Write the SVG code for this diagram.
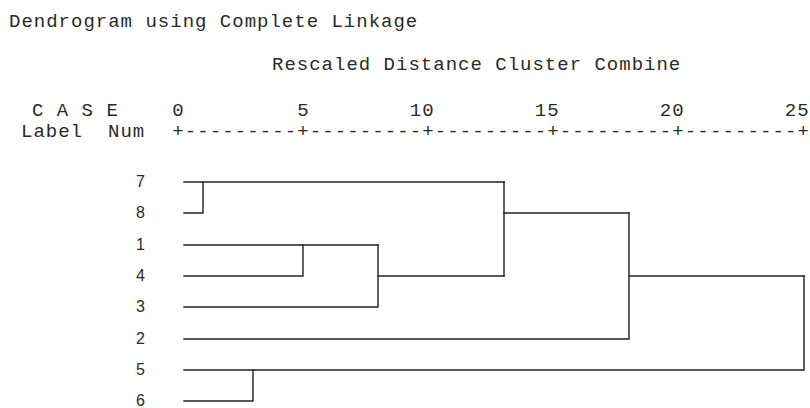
<svg xmlns="http://www.w3.org/2000/svg" width="810" height="408" viewBox="0 0 810 408">
  <style>
    .mono { font-family: "Courier New", "Liberation Mono", monospace; font-size: 19px; letter-spacing: 1px; fill: #2a2a2a; }
    .axis { letter-spacing: 1.1px; }
    .leaf { font-family: "Liberation Sans", Arial, sans-serif; font-size: 16px; fill: #2a2a2a; text-anchor: middle; }
    .link { fill: none; stroke: #222; stroke-width: 1.4; stroke-linecap: square; }
  </style>
  <rect width="810" height="408" fill="#fff"/>

  <!-- headings -->
  <g id="title">
    <text class="mono" x="9" y="27">Dendrogram using Complete Linkage</text>
    <text class="mono" x="272" y="70">Rescaled Distance Cluster Combine</text>
  </g>

  <!-- column headers and distance scale -->
  <g id="scale">
    <text class="mono" x="32" y="116">C A S E</text>
    <text class="mono" x="21" y="137">Label</text>
    <text class="mono" x="108" y="137">Num</text>
    <text class="mono" x="172.3" y="116">0</text>
    <text class="mono" x="297.3" y="116">5</text>
    <text class="mono" x="409.8" y="116">10</text>
    <text class="mono" x="534.8" y="116">15</text>
    <text class="mono" x="659.8" y="116">20</text>
    <text class="mono" x="784.8" y="116">25</text>
    <text class="mono axis" x="172.3" y="137">+---------+---------+---------+---------+---------+</text>
  </g>

  <!-- case labels -->
  <g id="case-7"><text class="leaf" x="140.5" y="187">7</text></g>
  <g id="case-8"><text class="leaf" x="140.5" y="218">8</text></g>
  <g id="case-1"><text class="leaf" x="140.5" y="250">1</text></g>
  <g id="case-4"><text class="leaf" x="140.5" y="281">4</text></g>
  <g id="case-3"><text class="leaf" x="140.5" y="312">3</text></g>
  <g id="case-2"><text class="leaf" x="140.5" y="344">2</text></g>
  <g id="case-5"><text class="leaf" x="140.5" y="375">5</text></g>
  <g id="case-6"><text class="leaf" x="140.5" y="406">6</text></g>

  <!-- merge lines -->
  <g id="connectors">
    <path class="link" d="M184 182 H504"/>
    <path class="link" d="M184 213 H203 V182"/>
    <path class="link" d="M184 245 H378"/>
    <path class="link" d="M184 276 H303 V245"/>
    <path class="link" d="M184 307 H378 V245"/>
    <path class="link" d="M378 276 H504"/>
    <path class="link" d="M504 182 V276"/>
    <path class="link" d="M504 213 H629"/>
    <path class="link" d="M184 339 H629 V213"/>
    <path class="link" d="M629 276 H804"/>
    <path class="link" d="M184 370 H804 V276"/>
    <path class="link" d="M184 401 H253 V370"/>
  </g>
</svg>
